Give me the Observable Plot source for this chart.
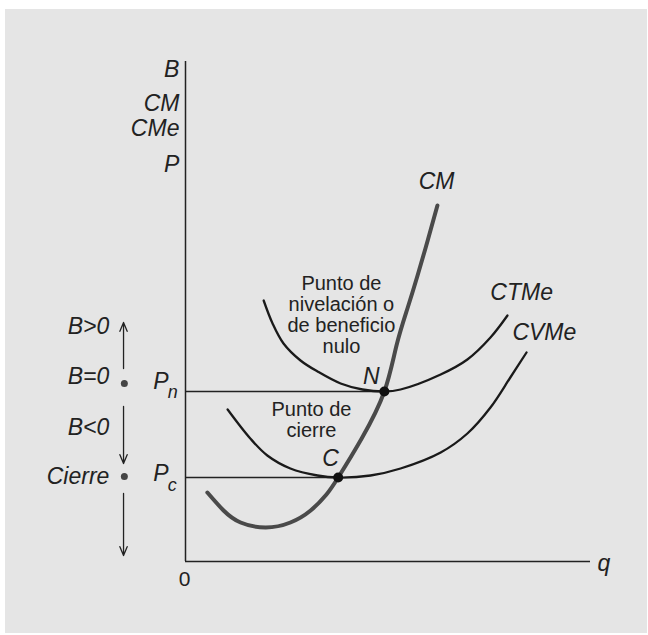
<!DOCTYPE html>
<html><head><meta charset="utf-8">
<script src="https://cdn.jsdelivr.net/npm/d3@7"></script>
<script src="https://cdn.jsdelivr.net/npm/@observablehq/plot@0.6"></script>
<style>
body{margin:0;background:#fff;}
#bg{position:absolute;left:5px;top:9px;width:642px;height:624px;background:#e5e5e5;}
#chart{position:absolute;left:0;top:0;}
</style></head><body><div id="bg"></div><div id="chart"></div>
<script>
// Curves (q, cost)
const cmCurve = [[0.54,1.38],[0.94,1.02],[1.36,0.78],[1.98,0.68],[2.59,0.78],[3.09,1.02],[3.48,1.34],[3.77,1.68],[4.35,2.46],[4.91,3.40],[5.21,4.32],[5.48,5.06],[5.73,5.72],[5.98,6.42],[6.22,7.12]];
const ctmeCurve = [[1.93,5.22],[2.15,4.76],[2.42,4.36],[2.84,4.02],[3.26,3.80],[3.83,3.56],[4.37,3.44],[4.91,3.40],[5.31,3.44],[6.30,3.74],[6.96,4.04],[7.53,4.48],[7.95,4.92]];
const cvmeCurve = [[1.04,3.04],[1.60,2.46],[2.02,2.12],[2.59,1.86],[3.26,1.72],[3.77,1.68],[4.57,1.72],[5.31,1.86],[6.30,2.18],[6.96,2.56],[7.53,3.08],[8.02,3.68],[8.42,4.18]];

// Key points
const qN = 4.91, Pn = 3.40;
const qC = 3.77, Pc = 1.68;

// Labels
const yAxisLabels = ["B", "CM", "CMe", "P"];
const yAxisLabelY = [9.84, 9.16, 8.66, 7.94];
const statusLabels = ["B>0", "B=0", "B<0", "Cierre"];
const statusY = [4.70, 3.70, 2.68, 1.70];
const statusDotsY = [3.56, 1.70];
const arrowSegs = [[3.86, 4.78], [3.10, 1.96], [1.36, 0.12]];
const curveLabels = ["CM", "CTMe", "CVMe", "N", "C"];
const curveLabelPos = [[6.20, 7.60], [8.30, 5.38], [8.86, 4.58], [4.59, 3.70], [3.58, 2.06]];
const noteTexts = ["Punto de\nnivelación o\nde beneficio\nnulo", "Punto de\ncierre"];
const notePos = [[3.85, 4.93], [3.11, 2.83]];

const toObj = a => a.map(([q, c]) => ({q, c}));
const ink = "#222";
const font = "'Liberation Sans', Arial, Helvetica, sans-serif";
const italic = {fontStyle: "italic", fontSize: 23, fill: ink, fontFamily: font};

const chart = Plot.plot({
  width: 648, height: 635,
  marginLeft: 185, marginRight: 58, marginTop: 61, marginBottom: 74,
  x: {domain: [0, 10], axis: null},
  y: {domain: [0, 10], axis: null},
  style: {background: "transparent", fontFamily: font},
  marks: [
    // axes
    Plot.ruleX([0], {y1: 0, y2: 10, stroke: ink, strokeWidth: 1.5}),
    Plot.ruleY([0], {x1: 0, x2: 10, stroke: ink, strokeWidth: 1.5}),
    // price lines
    Plot.ruleY([{p: Pn, q: qN}, {p: Pc, q: qC}], {y: "p", x1: 0, x2: "q", stroke: ink, strokeWidth: 1.5}),
    // cost curves
    Plot.line(toObj(ctmeCurve), {x: "q", y: "c", curve: "catmull-rom", stroke: "#1a1a1a", strokeWidth: 2.3}),
    Plot.line(toObj(cvmeCurve), {x: "q", y: "c", curve: "catmull-rom", stroke: "#1a1a1a", strokeWidth: 2.3}),
    Plot.line(toObj(cmCurve), {x: "q", y: "c", curve: "natural", stroke: "#4a4a4a", strokeWidth: 4}),
    // intersection points
    Plot.dot([{q: qN, c: Pn}, {q: qC, c: Pc}], {x: "q", y: "c", r: 5, fill: "#111", stroke: "none"}),
    // y-axis labels
    Plot.text(yAxisLabels, {x: -0.15, y: (d, i) => yAxisLabelY[i], text: d => d, textAnchor: "end", ...italic}),
    // P_n, P_c
    Plot.text(["P", "P"], {x: -0.42, y: (d, i) => [3.60, 1.76][i], text: d => d, textAnchor: "end", ...italic, fontSize: 23}),
    Plot.text(["n", "c"], {x: -0.44, y: (d, i) => [3.39, 1.52][i], text: d => d, textAnchor: "start", ...italic, fontSize: 18}),
    // origin and q
    Plot.text(["0"], {x: -0.02, y: -0.36, text: d => d, textAnchor: "middle", fill: ink, fontSize: 21, fontFamily: font}),
    Plot.text(["q"], {x: 10.17, y: -0.05, text: d => d, textAnchor: "start", ...italic}),
    // status labels on the left
    Plot.text(statusLabels, {x: -1.88, y: (d, i) => statusY[i], text: d => d, textAnchor: "end", ...italic}),
    Plot.dot(statusDotsY, {x: -1.51, y: d => d, r: 3.5, fill: "#444", stroke: "none"}),
    Plot.arrow(arrowSegs, {x1: -1.53, x2: -1.53, y1: d => d[0], y2: d => d[1], stroke: ink, strokeWidth: 1.3, headLength: 11, headAngle: 45}),
    // curve labels
    Plot.text(curveLabels, {x: (d, i) => curveLabelPos[i][0], y: (d, i) => curveLabelPos[i][1], text: d => d, textAnchor: "middle", ...italic}),
    // notes
    Plot.text(noteTexts, {x: (d, i) => notePos[i][0], y: (d, i) => notePos[i][1], text: d => d, textAnchor: "middle", lineAnchor: "middle", lineHeight: 1.04, fontSize: 20, fill: ink, fontFamily: font})
  ]
});
document.getElementById("chart").appendChild(chart);
</script></body></html>
